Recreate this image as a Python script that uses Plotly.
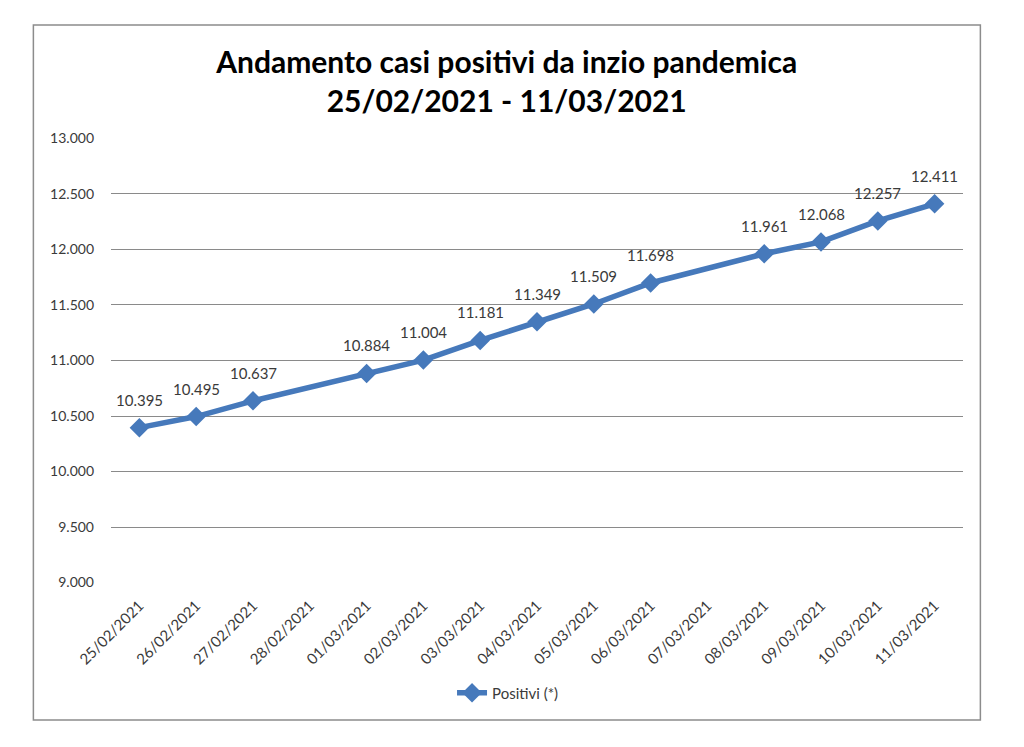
import plotly.graph_objects as go

dates = ["25/02/2021", "26/02/2021", "27/02/2021", "28/02/2021", "01/03/2021",
         "02/03/2021", "03/03/2021", "04/03/2021", "05/03/2021", "06/03/2021",
         "07/03/2021", "08/03/2021", "09/03/2021", "10/03/2021", "11/03/2021"]
positivi = [10395, 10495, 10637, None, 10884, 11004, 11181, 11349, 11509, 11698,
            None, 11961, 12068, 12257, 12411]
y_ticks = [9000, 9500, 10000, 10500, 11000, 11500, 12000, 12500, 13000]
y_tick_labels = ["9.000", "9.500", "10.000", "10.500", "11.000", "11.500", "12.000", "12.500", "13.000"]

def fmt(v):
    return f"{v:,}".replace(",", ".")

COLOR = "#4679BB"
FONT = "Lato, Carlito, Calibri, sans-serif"
TXT = "#3a3a3a"

fig = go.Figure()
fig.add_trace(go.Scatter(
    x=dates, y=positivi, mode="lines+markers", name="Positivi (*)",
    connectgaps=True,
    line=dict(color=COLOR, width=5.5),
    marker=dict(symbol="diamond", size=15, color=COLOR),
))

annotations = []
for d, v in zip(dates, positivi):
    if v is None:
        continue
    annotations.append(dict(x=d, y=v, text=fmt(v), showarrow=False, yshift=28,
                            font=dict(family=FONT, size=15, color=TXT)))

fig.update_layout(
    width=1024, height=747,
    margin=dict(l=103, r=69, t=130, b=172),
    paper_bgcolor="white", plot_bgcolor="white",
    title=dict(text="<b>Andamento casi positivi da inzio pandemica<br>25/02/2021 - 11/03/2021</b>",
               x=0.487, xanchor="center", y=0.913, yanchor="middle",
               font=dict(family=FONT, size=30, color="#000000")),
    xaxis=dict(type="category", tickangle=-45, showgrid=False, showline=False,
               range=[-0.5, len(dates) - 0.5],
               ticks="", ticklabelstandoff=10,
               tickfont=dict(family=FONT, size=15, color=TXT),
               categoryorder="array", categoryarray=dates),
    yaxis=dict(range=[8996, 13004], tickvals=y_ticks, ticktext=y_tick_labels,
               showgrid=True, gridcolor="#8a8a8a", gridwidth=1, zeroline=False,
               showline=False, ticks="", ticklabelstandoff=16,
               tickfont=dict(family=FONT, size=14, color=TXT)),
    showlegend=True,
    legend=dict(orientation="h", x=0.466, xanchor="center", y=-0.247, yanchor="middle",
                font=dict(family=FONT, size=15, color=TXT),
                itemwidth=30),
    annotations=annotations,
    shapes=[dict(type="rect", xref="paper", yref="paper",
                 x0=-0.0911, x1=1.0204, y0=-0.3079, y1=1.2539,
                 line=dict(color="#8C8C8C", width=1.5))],
)

fig.write_html("out.html")
